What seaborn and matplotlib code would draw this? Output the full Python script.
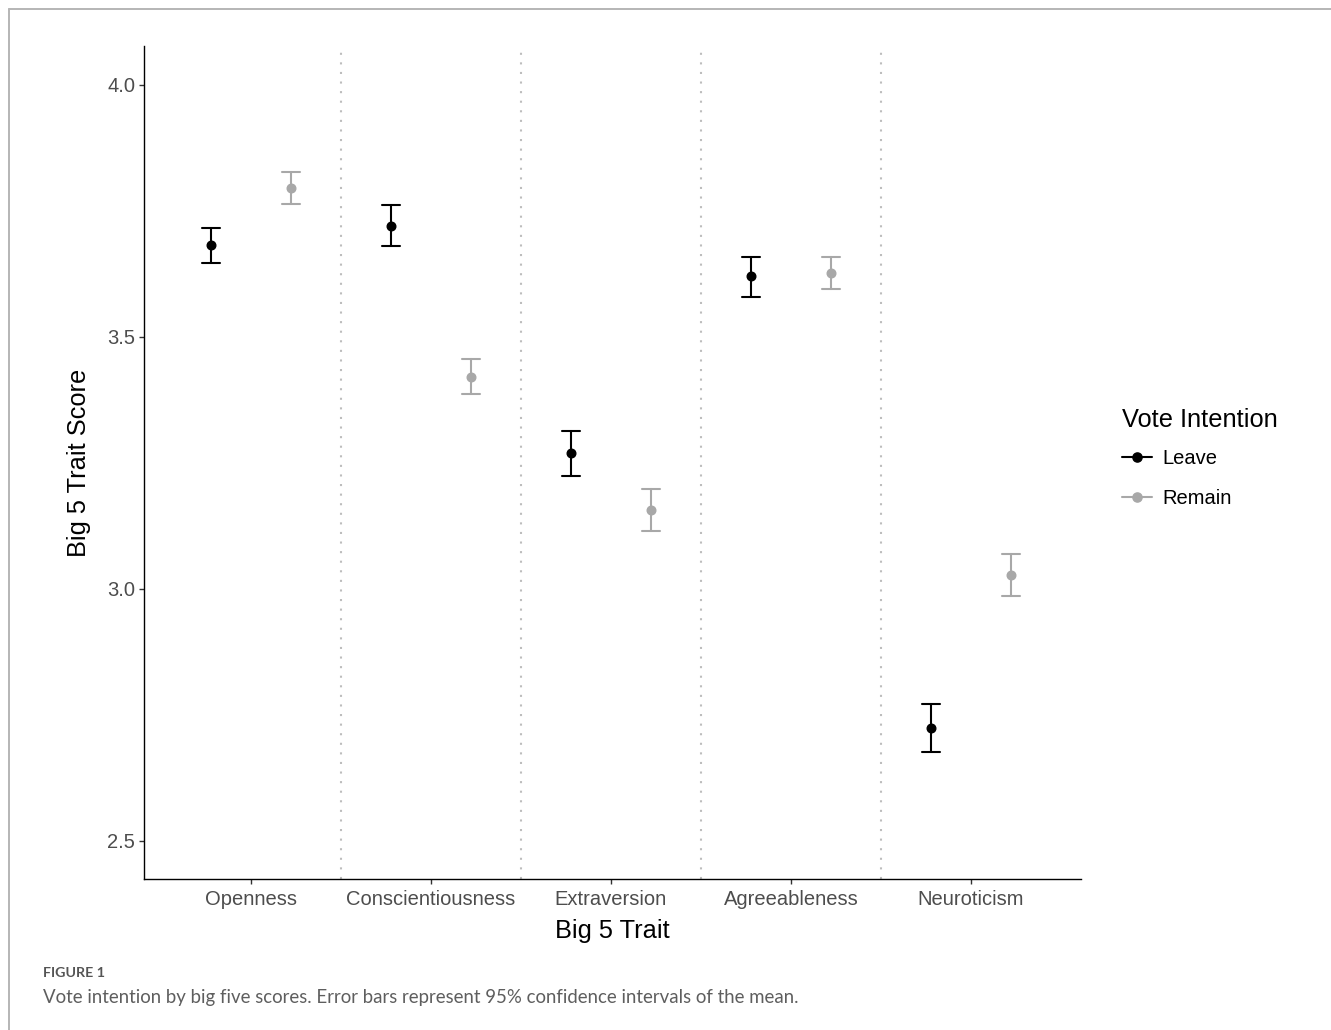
import numpy as np
import pandas as pd
import matplotlib
matplotlib.use("Agg")
import matplotlib.pyplot as plt
from matplotlib.lines import Line2D
import seaborn as sns

# Big Five trait means with 95% confidence limits, by vote intention
traits = ["Openness", "Conscientiousness", "Extraversion", "Agreeableness", "Neuroticism"]
groups = ["Leave", "Remain"]

leave_mean = [3.683, 3.720, 3.270, 3.620, 2.724]
leave_lo = [3.647, 3.681, 3.224, 3.580, 2.677]
leave_hi = [3.716, 3.761, 3.314, 3.658, 2.772]

remain_mean = [3.796, 3.421, 3.157, 3.627, 3.028]
remain_lo = [3.764, 3.386, 3.114, 3.595, 2.986]
remain_hi = [3.827, 3.456, 3.198, 3.658, 3.069]

y_ticks = [2.5, 3.0, 3.5, 4.0]

colors = {"Leave": "#000000", "Remain": "#A8A8A8"}

# Long table: each group/trait carries its lower limit, mean and upper limit,
# so the median is the mean and the min/max span is the interval.
rows = []
for grp, lo, mid, hi in [("Leave", leave_lo, leave_mean, leave_hi),
                         ("Remain", remain_lo, remain_mean, remain_hi)]:
    for t, a, b, c in zip(traits, lo, mid, hi):
        for v in (a, b, c):
            rows.append({"trait": t, "vote": grp, "score": v})
df = pd.DataFrame(rows)

sns.set_theme(style="white")
plt.rcParams["font.family"] = ["Liberation Sans", "DejaVu Sans"]

W, H = 1331, 1030
fig = plt.figure(figsize=(W / 100, H / 100), dpi=100)
ax = fig.add_axes([144 / W, 1 - 879 / H, (1081 - 144) / W, (879 - 46) / H])

sns.pointplot(
    data=df, x="trait", y="score", hue="vote",
    order=traits, hue_order=groups,
    palette=colors,
    estimator="median",
    errorbar=lambda v: (v.min(), v.max()),
    dodge=0.444, capsize=0.1,
    linestyle="none", markers="o",
    markersize=6.2, markeredgewidth=1.0,
    err_kws={"linewidth": 1.5},
    legend=False, ax=ax,
)

# dotted separators between traits
for i in range(len(traits) - 1):
    ax.axvline(i + 0.5, color="#BDBDBD", linewidth=1.5,
               linestyle=(0, (1.0, 3.6)), zorder=0)

ax.set_xlim(-0.594, 4.611)
ax.set_ylim(2.4246, 4.077)
ax.set_yticks(y_ticks)
ax.set_yticklabels([f"{v:.1f}" for v in y_ticks])

for s in ["top", "right"]:
    ax.spines[s].set_visible(False)
for s in ["left", "bottom"]:
    ax.spines[s].set_color("#000000")
    ax.spines[s].set_linewidth(1.0)

ax.tick_params(axis="both", which="major", length=3.8, width=1.0,
               color="#333333", labelcolor="#4D4D4D", labelsize=14.5,
               direction="out", bottom=True, left=True, pad=2.5)
ax.tick_params(axis="x", pad=4.0)
ax.grid(False)

ax.set_xlabel("Big 5 Trait", fontsize=18.3, color="#000000", labelpad=7)
ax.set_ylabel("Big 5 Trait Score", fontsize=18.3, color="#000000", labelpad=12)

handles = [Line2D([0], [0], color=colors[g], marker="o", markersize=6.6,
                  linewidth=1.5) for g in groups]
leg = fig.legend(handles, groups, title="Vote Intention",
                 loc="upper left", bbox_to_anchor=(1122 / W, 1 - 408 / H),
                 bbox_transform=fig.transFigure, frameon=False,
                 fontsize=14.5, title_fontsize=18.3,
                 handlelength=1.5, handletextpad=0.5, labelspacing=1.05,
                 borderpad=0, borderaxespad=0, alignment="left",
                 labelcolor="#000000")
leg.get_title().set_color("#000000")
# tighter gap between the legend title and its first entry
leg._legend_box.sep = 12.3

# caption below the panel
fig.text(43 / W, 1 - 973 / H, "FIGURE 1", fontsize=10.3, color="#555555",
         fontweight="bold", family=["Lato", "DejaVu Sans"], va="center", ha="left")
fig.text(43 / W, 1 - 997 / H,
         "Vote intention by big five scores. Error bars represent 95% confidence intervals of the mean.",
         fontsize=13.4, color="#5E5E5E",
         family=["Lato", "DejaVu Sans"], va="center", ha="left")

# page frame at the top and left
fig.add_artist(Line2D([9 / W, 1], [1 - 9 / H, 1 - 9 / H], transform=fig.transFigure,
                      color="#B5B5B5", linewidth=1.4))
fig.add_artist(Line2D([9 / W, 9 / W], [0, 1 - 9 / H], transform=fig.transFigure,
                      color="#B5B5B5", linewidth=1.4))

fig.savefig("out.png", dpi=100, facecolor="white")
